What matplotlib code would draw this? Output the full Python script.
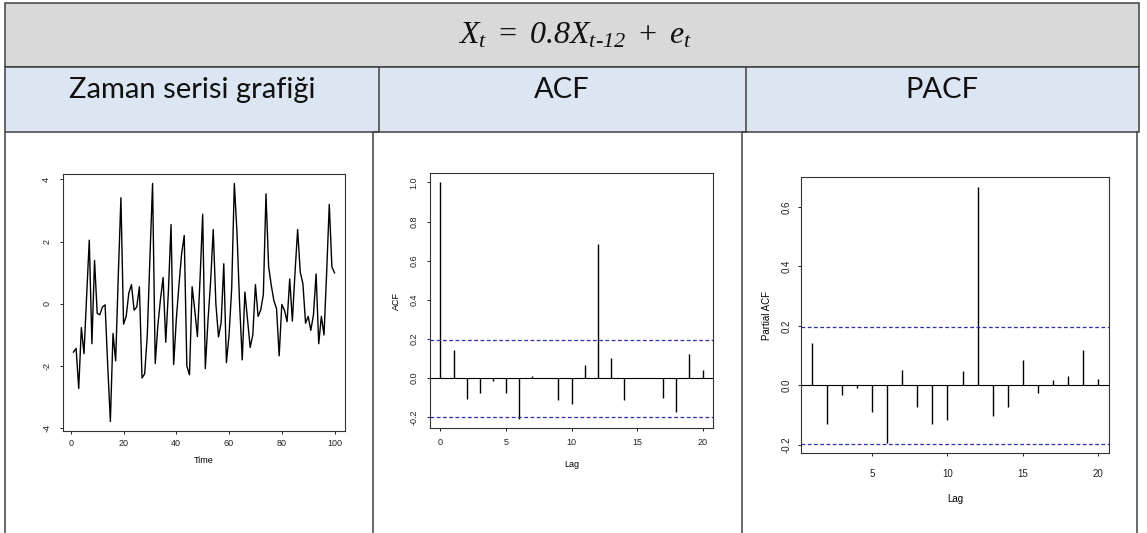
import numpy as np
import matplotlib.pyplot as plt
from matplotlib.patches import Rectangle

# Seasonal AR(12) series, X_t = 0.8 X_{t-12} + e_t
time = list(range(1, 101))
series = [-1.55, -1.43, -2.72, -0.76, -1.60, 0.25, 2.05, -1.28, 1.40, -0.30,
          -0.35, -0.10, -0.03, -2.00, -3.78, -0.95, -1.83, 0.90, 3.41, -0.65,
          -0.40, 0.35, 0.62, -0.20, -0.10, 0.55, -2.38, -2.25, -1.00, 1.50,
          3.87, -1.92, -0.70, 0.15, 0.85, -1.23, 0.40, 2.55, -1.95, -0.50,
          0.60, 1.60, 2.20, -2.00, -2.28, 0.55, -0.20, -1.05, 0.80, 2.88,
          -2.08, -0.55, 0.70, 2.39, 0.00, -1.06, -0.60, 1.29, -1.89, -1.00,
          0.50, 3.87, 2.30, 0.00, -1.80, 0.38, -0.50, -1.40, -1.00, 0.62,
          -0.40, -0.20, 0.30, 3.54, 1.20, 0.60, 0.10, -0.15, -1.67, -0.02,
          -0.20, -0.57, 0.80, -0.55, 1.00, 2.39, 1.02, 0.65, -0.62, -0.40,
          -0.85, -0.35, 0.96, -1.28, -0.40, -1.00, 1.00, 3.20, 1.18, 1.00]

acf_lags = list(range(0, 21))
acf_vals = [1.0, 0.142, -0.108, -0.074, -0.012, -0.077, -0.206, 0.012, 0.0,
            -0.110, -0.134, 0.065, 0.686, 0.103, -0.110, 0.0, 0.0, -0.103,
            -0.172, 0.125, 0.043]

pacf_lags = list(range(1, 21))
pacf_vals = [0.142, -0.129, -0.034, -0.008, -0.089, -0.193, 0.053, -0.072,
             -0.129, -0.116, 0.048, 0.666, -0.102, -0.072, 0.084, -0.027,
             0.019, 0.032, 0.120, 0.023]

n_obs = 100
title = r'$X_t\;=\;0.8X_{t\text{-}12}\;+\;e_t$'
headers = ['Zaman serisi grafiği', 'ACF', 'PACF']

plt.rcParams['font.family'] = ['Liberation Sans', 'DejaVu Sans']
plt.rcParams['axes.unicode_minus'] = False
plt.rcParams['mathtext.fontset'] = 'custom'
plt.rcParams['mathtext.it'] = 'Liberation Serif:italic'
plt.rcParams['mathtext.rm'] = 'Liberation Serif:italic'
plt.rcParams['mathtext.default'] = 'it'

W, H = 1147, 533
fig = plt.figure(figsize=(W / 100, H / 100), dpi=100)

# table frame drawn in pixel coordinates
bg = fig.add_axes([0, 0, 1, 1])
bg.set_xlim(0, W)
bg.set_ylim(H, 0)
bg.axis('off')
edge = '#404040'
bg.add_patch(Rectangle((5, 3), 1134, 64, facecolor='#d9d9d9', edgecolor=edge, lw=1.1))
bg.add_patch(Rectangle((5, 67), 1134, 65, facecolor='#dce6f2', edgecolor=edge, lw=1.1))
for xb, xw in [(379, 373), (746, 742)]:
    bg.plot([xb, xb, xw, xw], [67, 132, 132, H], color=edge, lw=1.1)
bg.plot([5, 5], [132, H], color=edge, lw=1.1)
bg.plot([1137, 1137], [132, H], color=edge, lw=1.1)

bg.text(575, 36, title, ha='center', va='center', fontsize=23, color='#111111')
for cx, label in zip([192, 562, 942], headers):
    bg.text(cx, 90, label, ha='center', va='center', fontsize=21,
            family=['Lato', 'DejaVu Sans'], color='#111111')


def px_axes(left, top, right, bottom):
    return fig.add_axes([left / W, 1 - bottom / H, (right - left) / W, (bottom - top) / H])


def r_style(ax, xpad, ypad, size=6.5):
    for s in ax.spines.values():
        s.set_linewidth(0.8)
        s.set_color('#333333')
    ax.tick_params(direction='out', length=2.5, width=0.7, labelsize=size, colors='#222222')
    ax.tick_params(axis='x', pad=xpad)
    ax.tick_params(axis='y', pad=ypad)
    for lab in ax.get_yticklabels():
        lab.set_rotation(90)
        lab.set_va('center')


def r_lim(lo, hi):
    d = (hi - lo) * 0.04
    return lo - d, hi + d


bound = 1.96 / np.sqrt(n_obs)
blue = '#2e2eb0'

# time series plot
ax1 = px_axes(63, 174, 345, 431)
ax1.plot(time, series, color='black', lw=1.0)
ax1.set_xlim(*r_lim(min(time), max(time)))
ax1.set_ylim(*r_lim(min(series), max(series)))
ax1.set_xticks([0, 20, 40, 60, 80, 100])
ax1.set_yticks([-4, -2, 0, 2, 4])
ax1.set_xlabel('Time', fontsize=6.5, labelpad=6)
r_style(ax1, 3, 6)

# ACF
ax2 = px_axes(430, 173, 713, 428)
ax2.vlines(acf_lags, 0, acf_vals, color='black', lw=1.0)
ax2.axhline(0, color='black', lw=0.8)
for b in (bound, -bound):
    ax2.axhline(b, color=blue, lw=0.9, ls=(0, (3, 2)))
ax2.set_xlim(*r_lim(min(acf_lags), max(acf_lags)))
ax2.set_ylim(*r_lim(min(acf_vals), max(acf_vals)))
ax2.set_xticks([0, 5, 10, 15, 20])
ax2.set_yticks([-0.2, 0.0, 0.2, 0.4, 0.6, 0.8, 1.0])
ax2.set_yticklabels(['-0.2', '0.0', '0.2', '0.4', '0.6', '0.8', '1.0'])
ax2.set_xlabel('Lag', fontsize=6.5, labelpad=9)
ax2.set_ylabel('ACF', fontsize=6.5, labelpad=6)
r_style(ax2, 5, 6)

# PACF
ax3 = px_axes(801, 177, 1109, 453)
ax3.vlines(pacf_lags, 0, pacf_vals, color='black', lw=1.0)
ax3.axhline(0, color='black', lw=0.8)
for b in (bound, -bound):
    ax3.axhline(b, color=blue, lw=0.9, ls=(0, (3, 2)))
ax3.set_xlim(*r_lim(min(pacf_lags), max(pacf_lags)))
ax3.set_ylim(*r_lim(min(pacf_vals), max(pacf_vals)))
ax3.set_xticks([5, 10, 15, 20])
ax3.set_yticks([-0.2, 0.0, 0.2, 0.4, 0.6])
ax3.set_yticklabels(['-0.2', '0.0', '0.2', '0.4', '0.6'])
ax3.set_xlabel('Lag', fontsize=7, labelpad=11)
ax3.set_ylabel('Partial ACF', fontsize=7, labelpad=7)
r_style(ax3, 9, 4, size=7)

fig.savefig('out.png', dpi=100)
